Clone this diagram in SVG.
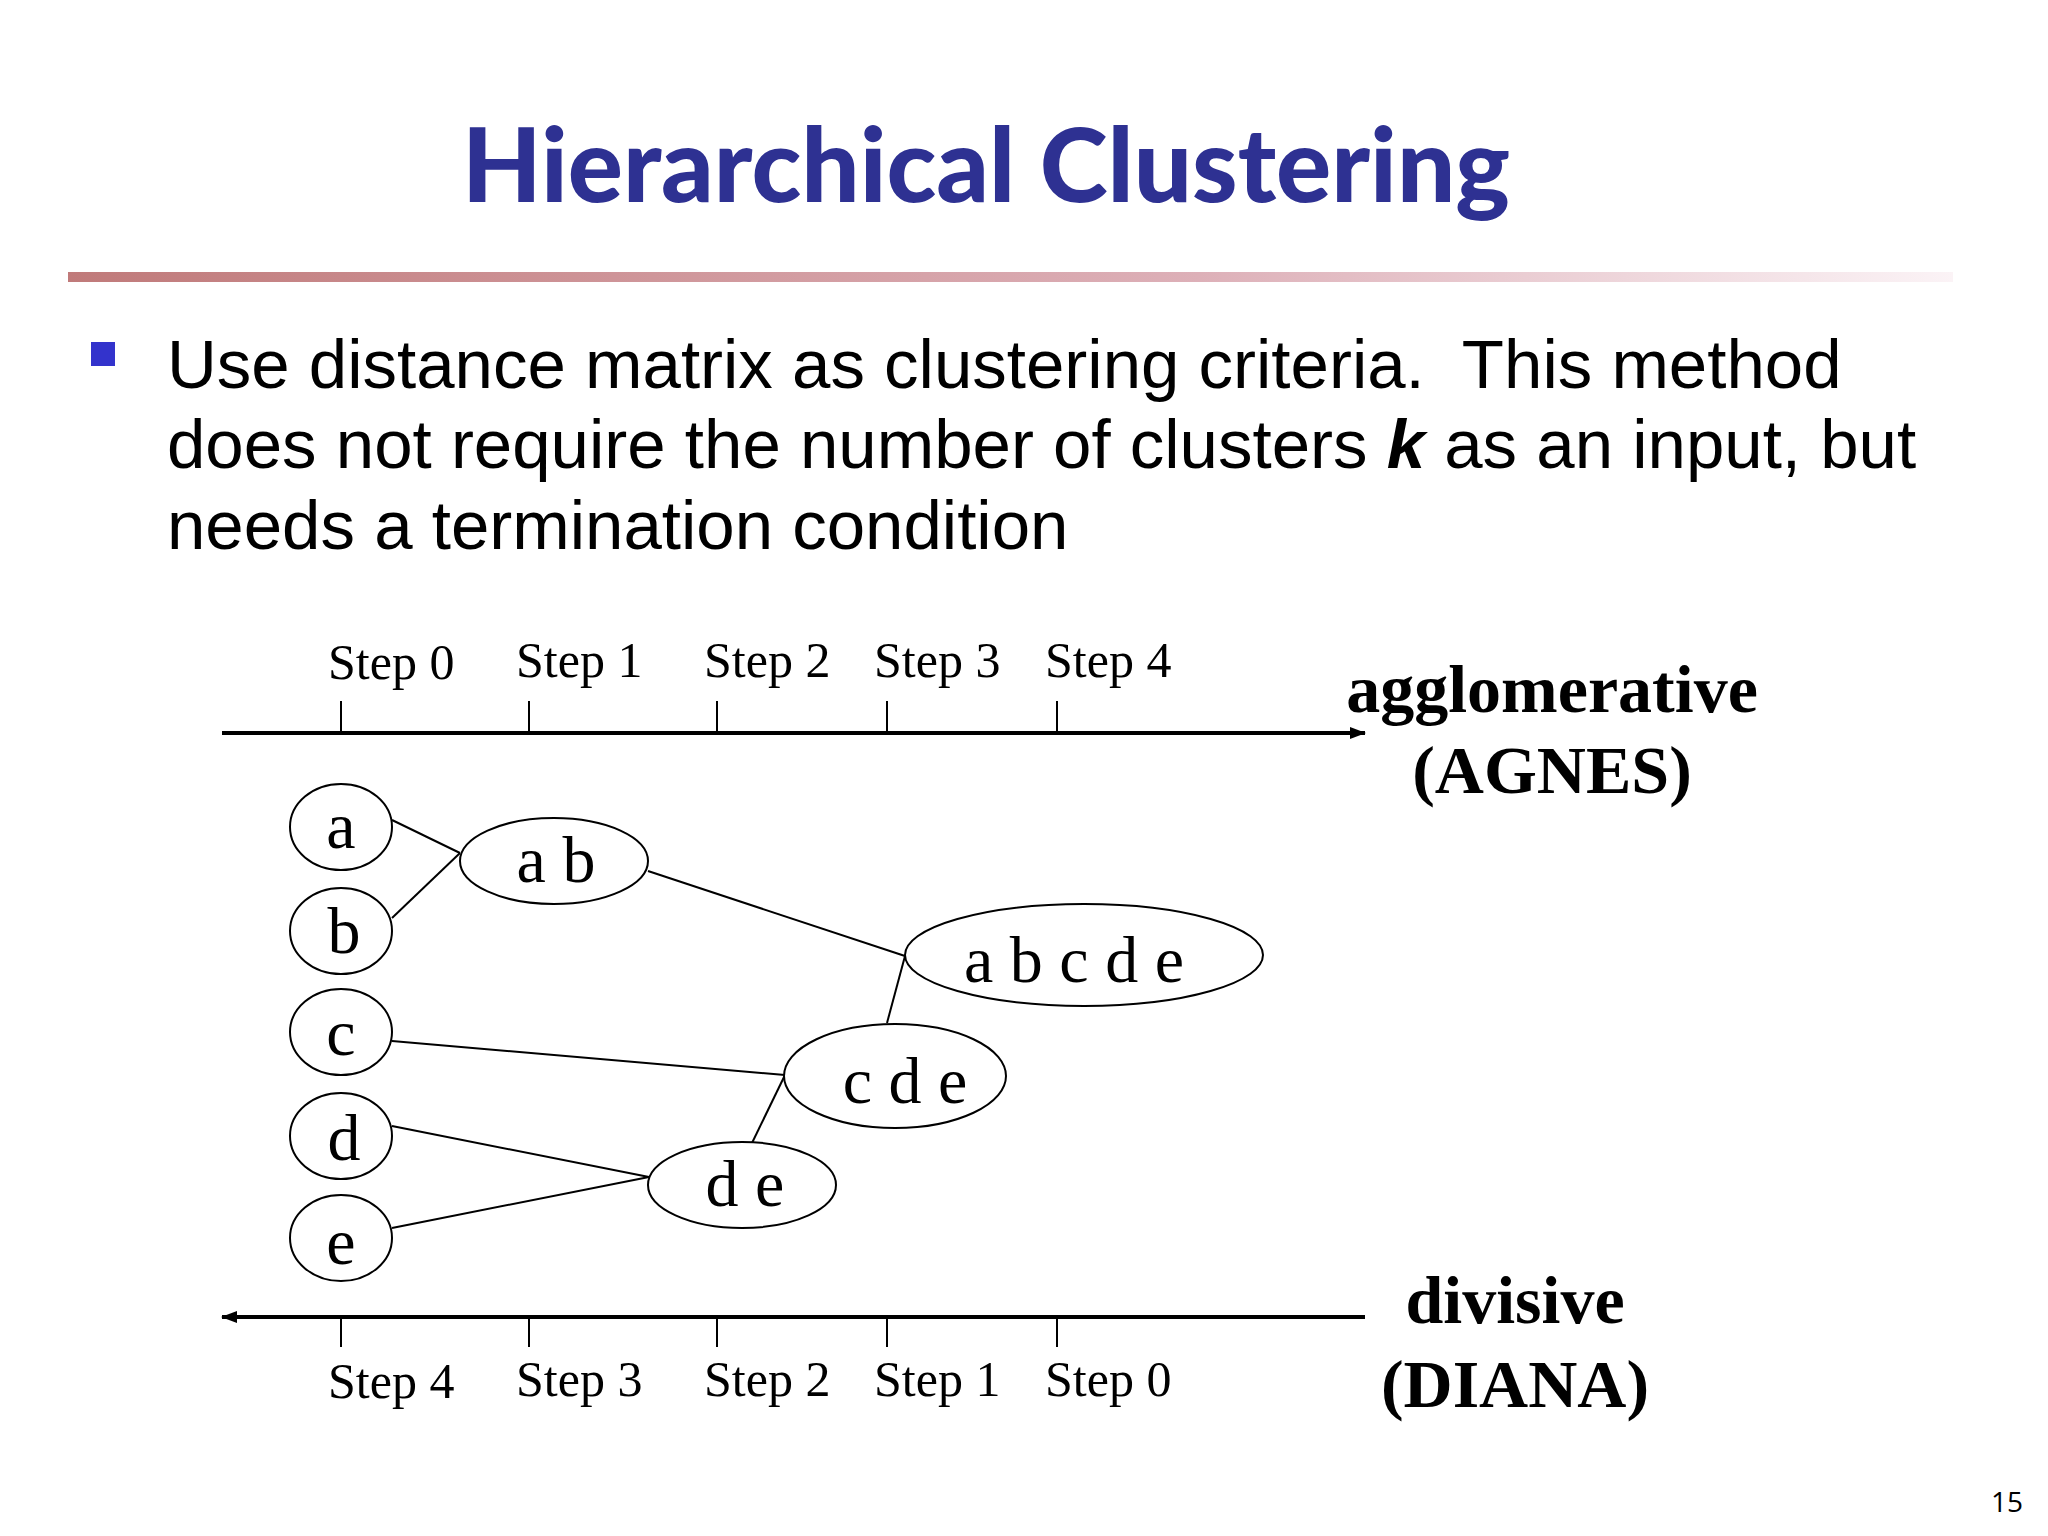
<svg xmlns="http://www.w3.org/2000/svg" width="2048" height="1536" viewBox="0 0 2048 1536">
<defs>
<linearGradient id="rule" x1="0" x2="1" y1="0" y2="0"><stop offset="0" stop-color="#c07a7a"/><stop offset="0.6" stop-color="#ddb0b8"/><stop offset="1" stop-color="#fbf3f6"/></linearGradient>
<marker id="ah" markerWidth="16" markerHeight="12" refX="15" refY="6" orient="auto" markerUnits="userSpaceOnUse"><path d="M0,0 L16,6 L0,12 z" fill="#000"/></marker>
</defs>
<style>
.n{fill:#fff;stroke:#000;stroke-width:2}
.t{font-family:"Liberation Serif",serif;font-size:66px;text-anchor:middle}
.s{font-family:"Liberation Serif",serif;font-size:50px}
.b{font-family:"Liberation Serif",serif;font-size:68px;font-weight:bold;text-anchor:middle}
.body{font-family:"Liberation Sans",Arial,sans-serif;font-size:69px}
line{stroke:#000;stroke-width:2}
.ax{stroke-width:4}
</style>
<rect width="2048" height="1536" fill="#fff"/>
<text x="986" y="202" text-anchor="middle" font-family="Lato,sans-serif" font-weight="900" font-size="103" fill="#2e3192">Hierarchical Clustering</text>
<rect x="68" y="272" width="1885" height="10" fill="url(#rule)"/>
<rect x="91" y="342" width="24" height="24" fill="#3333cc"/>
<text class="body" x="167" y="388" xml:space="preserve">Use distance matrix as clustering criteria.&#160; This method</text>
<text class="body" x="167" y="468">does not require the number of clusters <tspan font-weight="bold" font-style="italic">k</tspan> as an input, but</text>
<text class="body" x="167" y="549">needs a termination condition</text>
<g id="axes">
<line class="ax" x1="222" y1="733" x2="1365" y2="733" marker-end="url(#ah)"/>
<line x1="341" y1="701" x2="341" y2="733"/><line x1="529" y1="701" x2="529" y2="733"/><line x1="717" y1="701" x2="717" y2="733"/><line x1="887" y1="701" x2="887" y2="733"/><line x1="1057" y1="701" x2="1057" y2="733"/>
<text class="s" x="328" y="679">Step 0</text><text class="s" x="516" y="677">Step 1</text><text class="s" x="704" y="677">Step 2</text><text class="s" x="874" y="677">Step 3</text><text class="s" x="1045" y="677">Step 4</text>
<text class="b" x="1552" y="712">agglomerative</text><text class="b" x="1552" y="793">(AGNES)</text>
<line class="ax" x1="1365" y1="1317" x2="222" y2="1317" marker-end="url(#ah)"/>
<line x1="341" y1="1317" x2="341" y2="1347"/><line x1="529" y1="1317" x2="529" y2="1347"/><line x1="717" y1="1317" x2="717" y2="1347"/><line x1="887" y1="1317" x2="887" y2="1347"/><line x1="1057" y1="1317" x2="1057" y2="1347"/>
<text class="s" x="328" y="1398">Step 4</text><text class="s" x="516" y="1396">Step 3</text><text class="s" x="704" y="1396">Step 2</text><text class="s" x="874" y="1396">Step 1</text><text class="s" x="1045" y="1396">Step 0</text>
<text class="b" x="1515" y="1323">divisive</text><text class="b" x="1515" y="1407">(DIANA)</text>
</g>
<g id="connectors">
<line x1="392" y1="820" x2="460" y2="853"/><line x1="392" y1="918" x2="460" y2="853"/>
<line x1="648" y1="871" x2="905" y2="956"/><line x1="905" y1="956" x2="887" y2="1023"/>
<line x1="392" y1="1041" x2="785" y2="1075"/><line x1="785" y1="1075" x2="752" y2="1143"/>
<line x1="392" y1="1126" x2="649" y2="1177"/><line x1="392" y1="1228" x2="649" y2="1177"/>
</g>
<g id="a"><ellipse class="n" cx="341" cy="827" rx="51" ry="43"/><text class="t" x="341" y="848">a</text></g>
<g id="b"><ellipse class="n" cx="341" cy="931" rx="51" ry="43"/><text class="t" x="344" y="953">b</text></g>
<g id="c"><ellipse class="n" cx="341" cy="1032" rx="51" ry="43"/><text class="t" x="341" y="1055">c</text></g>
<g id="d"><ellipse class="n" cx="341" cy="1136" rx="51" ry="43"/><text class="t" x="344" y="1160">d</text></g>
<g id="e"><ellipse class="n" cx="341" cy="1238" rx="51" ry="43"/><text class="t" x="341" y="1264">e</text></g>
<g id="ab"><ellipse class="n" cx="554" cy="861" rx="94" ry="43"/><text class="t" x="556" y="882">a b</text></g>
<g id="abcde"><ellipse class="n" cx="1084" cy="955" rx="179" ry="51"/><text class="t" x="1074" y="982">a b c d e</text></g>
<g id="cde"><ellipse class="n" cx="895" cy="1076" rx="111" ry="52"/><text class="t" x="905" y="1103">c d e</text></g>
<g id="de"><ellipse class="n" cx="742" cy="1185" rx="94" ry="43"/><text class="t" x="745" y="1206">d e</text></g>
<text x="2007" y="1512" font-family="Open Sans,sans-serif" font-size="28" text-anchor="middle">15</text>
</svg>
